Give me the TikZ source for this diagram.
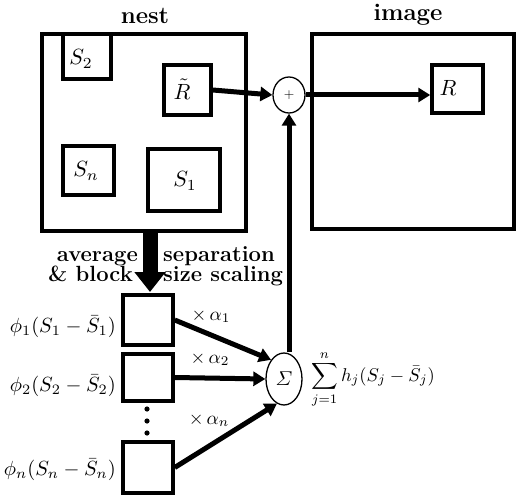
\documentclass[tikz,border=0pt]{standalone}
\usepackage{amsmath}
\usepackage{graphicx}
\usetikzlibrary{arrows.meta,shapes.geometric}
\begin{document}
\begin{tikzpicture}[x=1pt,y=-1pt,
  box/.style={draw,line width=3.5pt,rectangle,inner sep=0pt},
  ttl/.style={font=\fontsize{24}{26}\selectfont\bfseries,inner sep=0pt},
  lbl/.style={font=\fontsize{22}{20}\selectfont\bfseries,inner sep=0pt},
  tx/.style={inner sep=0pt},
  arr/.style={line width=5pt,-{Triangle[length=12pt,width=14pt]}},
  ell/.style={draw,ellipse,line width=1.3pt,inner sep=0pt}]
\useasboundingbox (0,0) rectangle (516,497);
% top boxes
\node[box,minimum width=204pt,minimum height=197pt] (nest) at (144,132.5) {};
\node[ttl] (nestl) at (145,16) {nest};
\node[box,minimum width=202pt,minimum height=195pt] (image) at (413,131.5) {};
\node[ttl] (imagel) at (408,15) {image};
\node[box,minimum width=48pt,minimum height=45pt] (S2) at (87,56.5) {};
\node[tx] (S2t) at (81,59) {\scalebox{2.2}{$S_2$}};
\node[box,minimum width=47pt,minimum height=50pt] (Rt) at (187.5,90) {};
\node[tx] (Rtt) at (182,89) {\scalebox{2.2}{$\tilde R$}};
\node[box,minimum width=51pt,minimum height=49pt] (Sn) at (88.5,170.5) {};
\node[tx] (Snt) at (86,171) {\scalebox{2.2}{$S_n$}};
\node[box,minimum width=72pt,minimum height=62pt] (S1) at (184,180) {};
\node[tx] (S1t) at (185,181) {\scalebox{2.2}{$S_1$}};
\node[box,minimum width=51pt,minimum height=48pt] (R) at (457.5,89) {};
\node[tx] (Rl) at (448,88) {\scalebox{2.2}{$R$}};
\node[ell,minimum width=32pt,minimum height=36pt] (plus) at (289,95) {\scalebox{1.35}{$+$}};
% bottom part
\node[box,minimum width=50pt,minimum height=50pt] (p1) at (148,320) {};
\node[box,minimum width=50pt,minimum height=47pt] (p2) at (148,377.5) {};
\node[box,minimum width=50pt,minimum height=51pt] (pn) at (148,467.5) {};
\node[tx,anchor=east] (l1) at (116,327) {\scalebox{2.05}{$\phi_1(S_1-\bar S_1)$}};
\node[tx,anchor=east] (l2) at (116,386) {\scalebox{2.05}{$\phi_2(S_2-\bar S_2)$}};
\node[tx,anchor=east] (ln) at (116,470) {\scalebox{2.05}{$\phi_n(S_n-\bar S_n)$}};
\foreach \yy [count=\i] in {409,421,433} \fill (147,\yy) circle (2.6pt) coordinate (dot\i);
\node[ell,minimum width=36pt,minimum height=52pt] (sig) at (284,379) {\scalebox{2.0}{$\varSigma$}};
\node[tx,anchor=west] (sum) at (311,379) {\scalebox{1.85}{$\displaystyle\sum_{j=1}^{n} h_j(S_j-\bar S_j)$}};
\node[tx] (a1) at (211,316) {\scalebox{1.9}{$\times\,\alpha_1$}};
\node[tx] (a2) at (210,359) {\scalebox{1.9}{$\times\,\alpha_2$}};
\node[tx] (an) at (209,420) {\scalebox{1.9}{$\times\,\alpha_n$}};
\node[lbl,anchor=base east] (t1a) at (138,261) {average};
\node[lbl,anchor=base east] (t1b) at (133,281) {\& block};
\node[lbl,anchor=base west] (t2a) at (163,261) {separation};
\node[lbl,anchor=base west] (t2b) at (163,281) {size scaling};
% connectors
\draw[arr] (Rt.east) -- (plus.west);
\draw[arr] (plus.east) -- (plus.east -| R.west);
\draw[arr] (plus.south |- sig.north) -- (plus.south);
\draw[arr] (p1.east) -- (sig.124);
\draw[arr] (p2.east) -- (sig.west);
\draw[arr] (pn.east) -- (sig.254);
\draw[line width=15pt,-{Triangle[length=20pt,width=30pt]}] (nest.south -| 150,0) -- (150,292) coordinate (bigtip);
\end{tikzpicture}
\end{document}
